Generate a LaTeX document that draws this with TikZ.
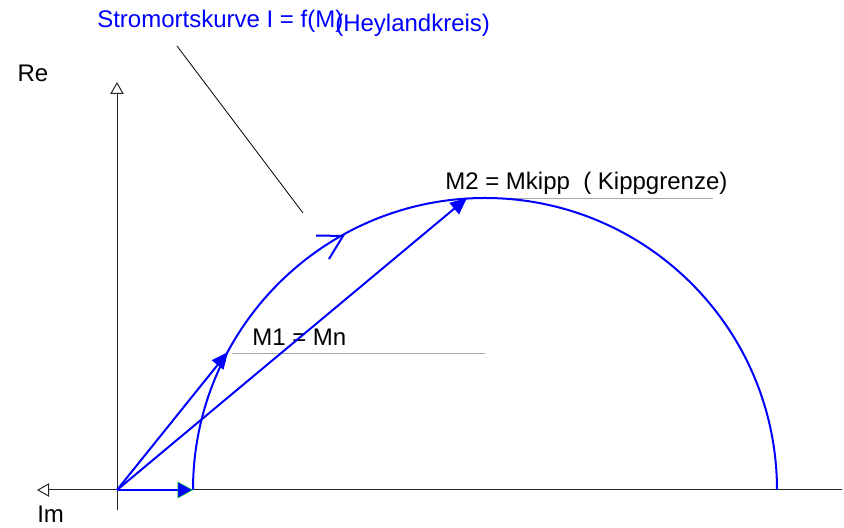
\documentclass[tikz,border=0pt]{standalone}
\usepackage{fontspec}
\setmainfont{Liberation Sans}
\usetikzlibrary{arrows.meta}

\begin{document}
\begin{tikzpicture}[x=0.75pt, y=0.75pt,
      font=\fontsize{18pt}{21pt}\selectfont,
      achse/.style={line width=0.75pt, black!85, -{Triangle[open, length=9pt, width=10pt]}},
      kurve/.style={blue, line width=1.5pt},
      zeiger/.style={blue, line width=1.5pt, -{Triangle[length=12.5pt, width=11pt]}},
      hilfslinie/.style={gray!70, line width=0.6pt},
      beschr/.style={anchor=base west, inner sep=0pt}
    ]
    \useasboundingbox (0,0) rectangle (844,528);

    % ─── Punkte ──────────────────────────────────────────────────
    \coordinate (O)      at (117, 38);
    \coordinate (M0)     at (193, 38);
    \coordinate (M1)     at (228,176);
    \coordinate (M2)     at (467,330);
    \coordinate (re_end) at (117, 18);
    \coordinate (re_tip) at (117,446);
    \coordinate (im_end) at (842, 38);
    \coordinate (im_tip) at ( 37, 38);
    \coordinate (lt_a)   at (177,482);
    \coordinate (lt_b)   at (303,315);
    \coordinate (pfeil)  at (343,292);

    % ─── Achsen ──────────────────────────────────────────────────
    \draw[achse] (re_end) -- (re_tip);
    \draw[achse] (im_end) -- (im_tip);
    \node (re) at (33,455) {Re};
    \node[beschr] (im) at (37, 5) {Im};

    % ─── Titel & Hinweislinie ────────────────────────────────────
    \node[beschr, blue] (titel)   at ( 97,500) {Stromortskurve I = f(M)};
    \node[beschr, blue] (heyland) at (335,496) {(Heylandkreis)};
    \draw[line width=0.6pt] (lt_a) -- (lt_b);

    % ─── Beschriftungen M1, M2 ───────────────────────────────────
    \draw[hilfslinie] (232,175) -- (485,175);
    \draw[hilfslinie] (487,330) -- (713,330);
    \node[beschr] (m1lab) at (252,182) {M1 = Mn};
    \node[beschr] (m2lab) at (445,338) {M2 = Mkipp \ ( Kippgrenze)};

    % ─── Heylandkreis ────────────────────────────────────────────
    \draw[kurve] (M0) arc[start angle=180, end angle=0, radius=292];
    \draw[kurve, miter limit=4] (316,292.5) -- (pfeil) -- (329,269);

    % ─── Zeiger ──────────────────────────────────────────────────
    \draw[zeiger, -{Triangle[length=11.5pt, width=12.5pt, fill=blue, color=green!90!blue, line width=0.35pt]}] (O) -- (M0);
    \draw[zeiger] (O) -- (M1);
    \draw[zeiger] (O) -- (M2);

\end{tikzpicture}
\end{document}
